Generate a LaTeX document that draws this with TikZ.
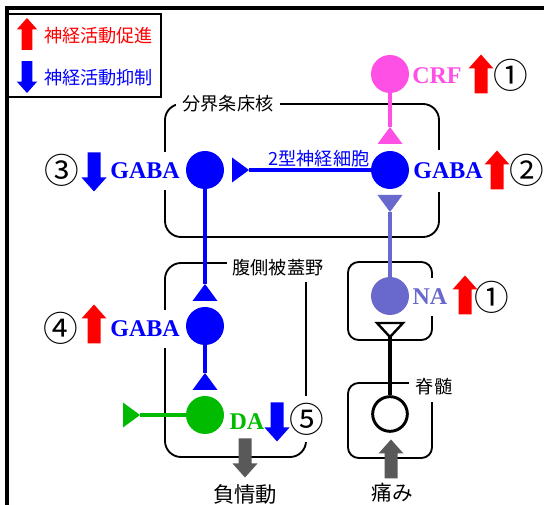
\documentclass[tikz,border=0pt]{standalone}
\usepackage{fontspec}
\setmainfont{Noto Sans CJK JP}
\newfontfamily\tms{Liberation Serif}
\definecolor{crfpink}{RGB}{255,80,230}
\definecolor{napurple}{RGB}{105,105,205}
\definecolor{dagreen}{RGB}{0,187,0}
\definecolor{arrgray}{RGB}{89,89,89}
\tikzset{
  % block arrows, centred on the pic origin, 25 wide and 39 long
  uparr/.pic={\path[pic actions] (0,-19.5) -- (12.5,-5.5) -- (6.5,-5.5) -- (6.5,19.5)
      -- (-6.5,19.5) -- (-6.5,-5.5) -- (-12.5,-5.5) -- cycle;},
  dnarr/.pic={\path[pic actions] (0,19.5) -- (12.5,5.5) -- (6.5,5.5) -- (6.5,-19.5)
      -- (-6.5,-19.5) -- (-6.5,5.5) -- (-12.5,5.5) -- cycle;},
  % synaptic terminal: apex at the origin, base towards +x
  term/.pic={\path[pic actions] (0,0) -- (17,-12.5) -- (17,12.5) -- cycle;},
  termo/.pic={\path[pic actions] (0,0) -- (14,-13) -- (14,13) -- cycle;},
}
\begin{document}
\begin{tikzpicture}[x=0.75pt,y=-0.75pt,
  neuron/.style={circle, minimum size=28.5pt, inner sep=0pt},
  axon/.style={line width=2.8pt},
  region/.style={draw, line width=1.4pt, rounded corners=12pt},
  jp/.style={font=\fontsize{13.6}{16}\selectfont, inner sep=0pt},
  jpbig/.style={font=\fontsize{16}{18}\selectfont, inner sep=0pt},
  tr/.style={font=\tms\bfseries\fontsize{18}{20}\selectfont, inner sep=0pt},
  num/.style={font=\fontsize{26}{28}\selectfont, inner sep=0pt},
  cover/.style={fill=white, minimum height=28pt, inner xsep=2pt},
]
\useasboundingbox (0,0) rectangle (544,505);

% outer frame
\draw[line width=2.4pt] (7,505) -- (7,8) -- (545,8);

% legend
\draw[line width=1.1pt] (8,14) rectangle (161,97);
\pic[fill=red, scale=0.82] at (27,34) {uparr};
\pic[fill=blue, scale=0.82] at (27,77) {dnarr};
\node[jp, red, anchor=west] (lgup) at (44,36) {神経活動促進};
\node[jp, blue, anchor=west] (lgdn) at (44,78) {神経活動抑制};

% brain regions
\draw[region] (165,104) rectangle (439,237);
\draw[region] (165,263) rectangle (306,457);
\draw[region, rounded corners=8pt] (348,262) rectangle (432,340);
\draw[region, rounded corners=8pt] (348,383) rectangle (432,458);

% neurons
\node[neuron, fill=crfpink] (crf) at (390,74) {};
\node[neuron, fill=blue] (gabaR) at (390,170) {};
\node[neuron, fill=blue] (gabaL) at (205,170) {};
\node[neuron, fill=blue] (gabaV) at (205,326) {};
\node[neuron, fill=dagreen] (da) at (205,415) {};
\node[neuron, fill=napurple] (na) at (390,296) {};
\node[circle, draw, line width=2.2pt, minimum size=26pt, inner sep=0pt] (spin) at (390,414) {};

% axon terminals
\coordinate (tPk) at (390,127);
\coordinate (tL) at (249,170);
\coordinate (tV1) at (205,284);
\coordinate (tV2) at (205,373);
\coordinate (tG) at (140,415);
\coordinate (tP) at (390,212);
\coordinate (tS) at (390,337);

\draw[axon, crfpink] (crf) -- (tPk);
\draw[axon, blue] (gabaR) -- (tL);
\draw[axon, blue] (gabaL) -- (tV1);
\draw[axon, blue] (gabaV) -- (tV2);
\draw[axon, dagreen] (da) -- (tG);
\draw[axon, napurple] (na) -- (tP);
\draw[axon, black] (spin) -- (tS);

\pic[fill=crfpink, rotate=-90] at (tPk) {term};
\pic[fill=blue, rotate=180] at (tL) {term};
\pic[fill=blue, rotate=-90] at (tV1) {term};
\pic[fill=blue, rotate=-90] at (tV2) {term};
\pic[fill=dagreen, rotate=180] at (tG) {term};
\pic[fill=napurple, rotate=90] at (tP) {term};
\pic[draw=black, fill=white, line width=1.8pt, rotate=90] at (tS) {termo};

% region names
\node[jp, fill=white, inner xsep=5pt, inner ysep=3pt] (lbnst) at (228,104) {分界条床核};
\node[jp, fill=white, inner sep=4.5pt] (lvta) at (278,268) {腹側被蓋野};
\node[jp, fill=white, inner sep=5pt] (lsc) at (434,387) {脊髄};
\node[jp, blue] (ltype2) at (319,159) {2型神経細胞};

% transmitter labels
\node[tr, crfpink] (lcrf) at (437,76) {CRF};
\node[tr, blue, cover, minimum height=32pt] (lgabaR) at (448,171) {GABA};
\node[tr, blue, cover] (lgabaL) at (145,171) {GABA};
\node[tr, blue, cover] (lgabaV) at (145,329) {GABA};
\node[tr, napurple, cover] (lna) at (430,297) {NA};
\node[tr, dagreen] (lda) at (247,422) {DA};

% numbers
\node[num] (n1a) at (511,75) {①};
\node[num] (n2) at (527,170) {②};
\node[num] (n3) at (62,170) {③};
\node[num] (n4) at (61,328) {④};
\node[num, fill=white, minimum height=34pt] (n5) at (307,419) {⑤};
\node[num] (n1b) at (492,297) {①};

% activity arrows
\pic[fill=red] at (481,74) {uparr};
\pic[fill=red] at (497,170) {uparr};
\pic[fill=blue] at (94,172) {dnarr};
\pic[fill=red] at (94,324) {uparr};
\pic[fill=blue] at (277,422) {dnarr};
\pic[fill=red] at (465,295) {uparr};

% input and output
\pic[fill=arrgray] at (245,458) {dnarr};
\pic[fill=arrgray] at (391,459) {uparr};
\node[jpbig] (lneg) at (245,494) {負情動};
\node[jpbig, font=\fontsize{15.5}{18}\selectfont] (lpain) at (392,493) {痛み};
\end{tikzpicture}
\end{document}
